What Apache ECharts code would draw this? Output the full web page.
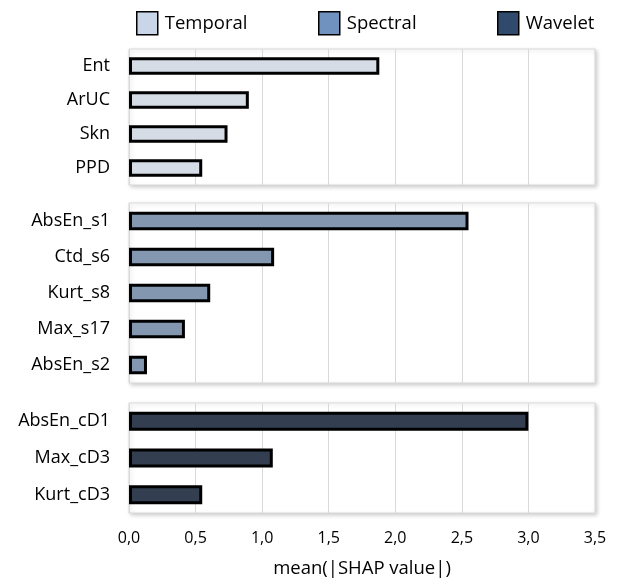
<!DOCTYPE html>
<html>
<head>
<meta charset="utf-8">
<script src="https://cdn.jsdelivr.net/npm/echarts@6/dist/echarts.min.js"></script>
<style>html,body{margin:0;padding:0;background:#fff}#c{width:617px;height:579px}</style>
</head>
<body>
<div id="c"></div>
<script>
const temporalCats = ['Ent', 'ArUC', 'Skn', 'PPD'];
const temporalVals = [1.88, 0.90, 0.74, 0.55];
const spectralCats = ['AbsEn_s1', 'Ctd_s6', 'Kurt_s8', 'Max_s17', 'AbsEn_s2'];
const spectralVals = [2.55, 1.09, 0.61, 0.42, 0.135];
const waveletCats = ['AbsEn_cD1', 'Max_cD3', 'Kurt_cD3'];
const waveletVals = [3.00, 1.08, 0.55];
const groupNames = ['Temporal', 'Spectral', 'Wavelet'];
const xTicks = [0, 0.5, 1, 1.5, 2, 2.5, 3, 3.5];

const FONT = 'Open Sans';
const barColors = ['#d6dce5', '#8497b0', '#333f50'];
const legendColors = ['#c9d6e8', '#7092be', '#2f4a6c'];
const cats = [temporalCats, spectralCats, waveletCats];
const vals = [temporalVals, spectralVals, waveletVals];

const gridPos = [
  {top: 49, height: 136},
  {top: 203, height: 180},
  {top: 403, height: 115}
];

const grids = gridPos.map(g => ({
  left: 129, right: 22, top: g.top, height: g.height,
  show: true, backgroundColor: '#fff', borderColor: '#d9d9d9', borderWidth: 1,
  shadowColor: 'rgba(0,0,0,0.18)', shadowBlur: 4, shadowOffsetX: 1.5, shadowOffsetY: 1.5
}));

const xAxes = gridPos.map((g, i) => ({
  type: 'value', gridIndex: i, min: xTicks[0], max: xTicks[xTicks.length - 1], interval: 0.5,
  axisLine: {show: false}, axisTick: {show: false},
  splitLine: {show: true, lineStyle: {color: '#d9d9d9', width: 1}},
  axisLabel: {
    show: i === 2, margin: 17, color: '#000', fontFamily: FONT, fontSize: 16,
    formatter: v => v.toFixed(1).replace('.', ',')
  },
  name: i === 2 ? 'mean(|SHAP value|)' : '',
  nameLocation: 'middle', nameGap: 46,
  nameTextStyle: {color: '#000', fontFamily: FONT, fontSize: 18.5}
}));

const yAxes = cats.map((c, i) => ({
  type: 'category', gridIndex: i, data: c, inverse: true,
  axisLine: {show: false}, axisTick: {show: false}, splitLine: {show: false},
  axisLabel: {margin: 19, color: '#000', fontFamily: FONT, fontSize: 18}
}));

const series = groupNames.map((n, i) => ({
  name: n, type: 'bar', xAxisIndex: i, yAxisIndex: i, data: vals[i],
  barWidth: '52%',
  itemStyle: {color: barColors[i], borderColor: '#000', borderWidth: 3},
  emphasis: {disabled: true}
}));

const legendLeft = [131, 313, 492];
const legends = groupNames.map((n, i) => ({
  left: legendLeft[i], top: 6, itemWidth: 21, itemHeight: 23, itemGap: 10,
  icon: 'rect', selectedMode: false,
  data: [{name: n, itemStyle: {color: legendColors[i], borderColor: '#000', borderWidth: 1.5}}],
  textStyle: {color: '#000', fontFamily: FONT, fontSize: 18.5, padding: [0, 0, 0, 2]}
}));

const chart = echarts.init(document.getElementById('c'), null, {renderer: 'canvas'});
chart.setOption({
  animation: false,
  backgroundColor: '#fff',
  legend: legends,
  grid: grids,
  xAxis: xAxes,
  yAxis: yAxes,
  series: series
});
</script>
</body>
</html>
